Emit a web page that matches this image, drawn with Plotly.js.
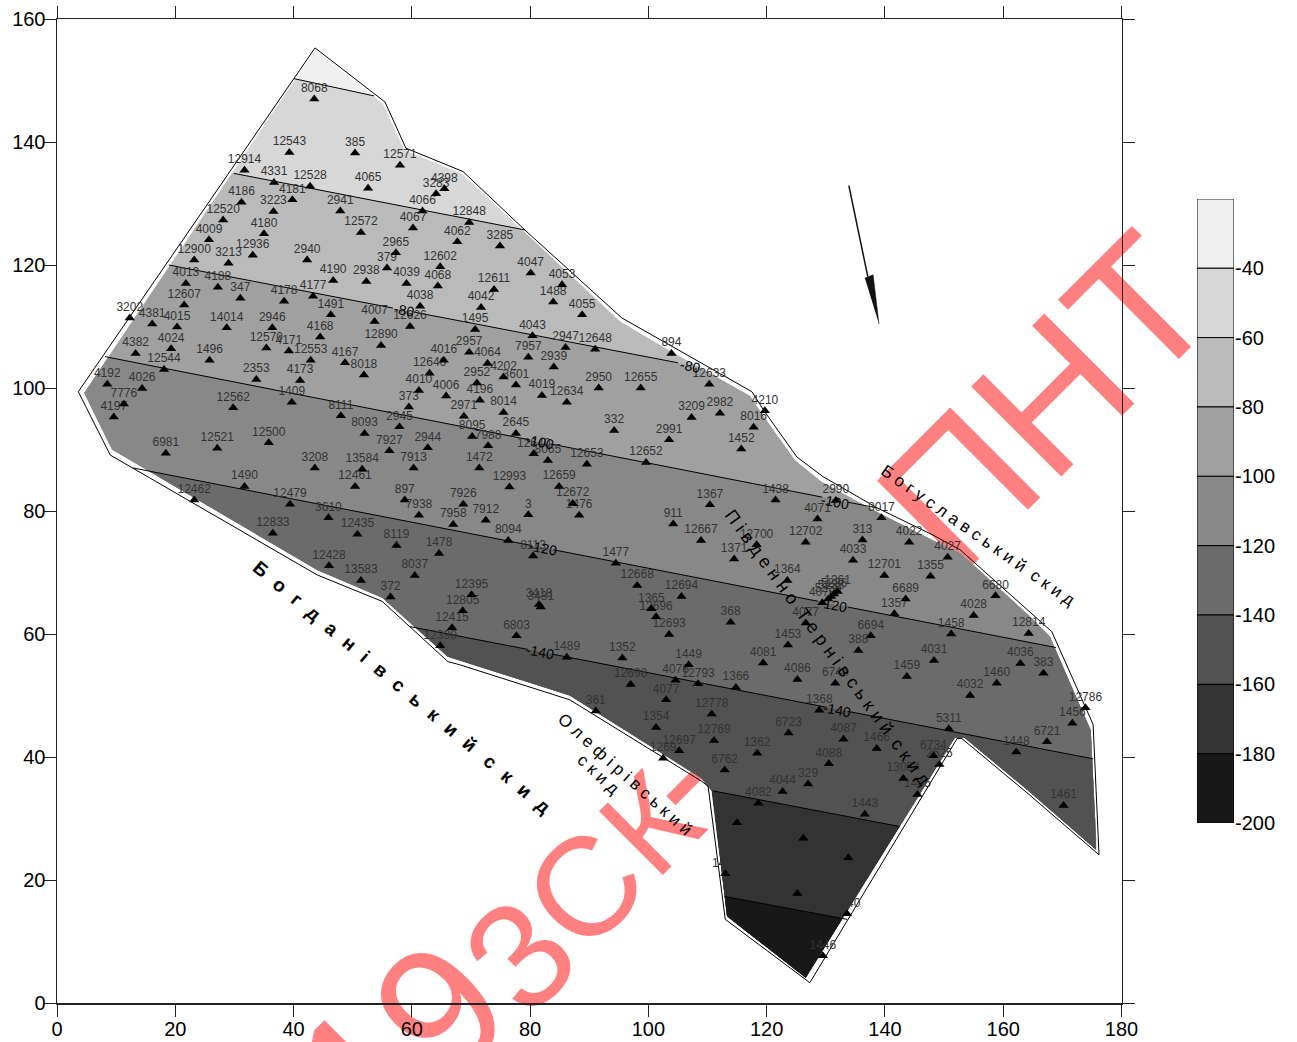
<!DOCTYPE html>
<html>
<head>
<meta charset="utf-8">
<script src="https://cdn.plot.ly/plotly-3.0.1.min.js"></script>
<style>html,body{margin:0;padding:0;background:#fff;overflow:hidden}#chart{width:1297px;height:1042px}</style>
</head>
<body>
<div id="chart"></div>
<script>
const stationNames = ["8068","12543","385","12571","12914","4331","12528","4065","4181","4186","4398","3283","4066","3223","2941","12520","4067","12572","4180","4009","12936","2965","4062","12900","2940","3213","12602","379","4190","2938","4039","4013","4068","4188","4177","347","4178","12607","4038","1491","3202","4381","4015","14014","2946","4007","12626","4168","12890","12570","4024","4171","4382","1496","12553","4167","12544","4016","8018","12646","2353","4173","4192","4026","4010","4006","1409","7776","373","12562","4197","8111","2945","8093","12521","12500","7927","2944","6981","7913","3208","13584","12461","1490","12462","897","12479","7938","3610","7958","12833","12435","8119","1478","12428","8037","13583","372","12415","12390"];
const stationX = [43.5,39.3,50.4,58.0,31.7,36.7,42.8,52.6,39.8,31.2,65.5,64.1,61.8,36.6,47.9,28.1,60.2,51.4,35.0,25.7,33.1,57.3,67.7,23.2,42.3,29.0,64.8,55.8,46.7,52.3,59.1,21.8,64.4,27.2,43.3,31.0,38.4,21.5,61.4,46.3,12.3,16.1,20.3,28.7,36.4,53.7,59.7,44.5,54.8,35.4,19.3,39.2,13.3,25.8,42.9,48.7,18.1,65.4,51.9,63.0,33.7,41.1,8.5,14.4,61.2,65.8,39.7,11.3,59.5,29.8,9.6,48.0,57.9,52.0,27.1,35.8,56.2,62.7,18.4,60.3,43.6,51.6,50.4,31.7,23.2,58.8,39.4,61.2,45.9,67.0,36.5,50.8,57.4,64.6,46.0,60.5,51.4,56.4,66.8,64.8];
const stationY = [147.0,138.3,138.2,136.2,135.4,133.4,132.8,132.5,130.6,130.2,132.4,131.6,128.8,128.7,128.8,127.3,126.0,125.3,125.1,124.1,121.6,122.0,123.8,120.8,120.8,120.3,119.7,119.5,117.5,117.3,117.0,117.0,116.6,116.4,114.9,114.6,114.1,113.5,113.3,111.9,111.4,110.4,109.9,109.8,109.8,110.8,110.0,108.3,106.9,106.5,106.4,106.0,105.6,104.5,104.5,104.1,103.0,104.5,102.1,102.4,101.4,101.2,100.6,99.9,99.6,98.7,97.7,97.4,96.9,96.8,95.3,95.5,93.7,92.6,90.2,91.1,89.8,90.3,89.4,87.0,87.0,86.8,84.0,84.0,81.8,81.8,81.1,79.3,78.9,77.8,76.4,76.2,74.4,73.1,71.1,69.5,68.7,66.0,61.0,58.1];

const stationNames2 = ["4055","4053","1488","12611","4047","4042","12848","3285","1495","4043","2947","12648","894","2957","7957","2939","4064","4202","2952","3601","2950","12655","12633","4019","12634","4196","8014","2971","3209","2982","4210","8016","332","2645","8095","2991","7988","1452","12640","8065","12652","12653","1472","12659","12993","1438","7926","12672","1367","3","1476","7912","911","12667","8094","12700","1371","8113","1477","1364","12668","12694","12395","12805","3418","3431","1365","12696","368","12693","6803","4081","1453","1489","1352","1449","4076","12793","12698","1366","4086","4077","12778","361","1354","6723","12769","12697","1362","1269","6762","4044","4082"];
const stationX2 = [88.8,85.4,83.9,73.9,80.1,71.7,69.7,74.9,70.7,80.4,86.0,91.0,103.9,69.7,79.7,84.0,72.8,75.5,71.0,77.6,91.6,98.7,110.3,82.0,86.2,71.5,75.5,68.8,107.3,112.1,119.7,117.8,94.2,77.6,70.2,103.5,72.9,115.7,80.6,83.0,99.6,89.6,71.4,84.9,76.5,121.5,68.7,87.2,110.4,79.7,88.3,72.5,104.2,108.9,76.3,118.3,114.5,80.5,94.5,123.5,98.1,105.6,70.1,68.6,81.5,81.8,100.5,101.3,113.9,103.5,77.7,119.4,123.6,86.2,95.6,106.8,104.6,108.4,97.0,114.8,125.2,103.0,110.7,91.1,101.3,123.7,111.1,105.2,118.4,102.5,112.9,122.7,118.6];
const stationY2 = [111.9,116.8,114.0,116.0,118.7,113.1,126.9,123.1,109.5,108.5,106.6,106.3,105.6,105.8,105.0,103.4,104.0,101.8,100.8,100.5,100.0,100.0,100.6,98.8,97.7,98.0,96.0,95.4,95.2,95.9,96.3,93.6,93.1,92.6,92.1,91.6,90.6,90.1,89.3,88.2,87.9,87.6,87.0,84.0,83.9,81.8,81.1,81.2,81.0,79.4,79.3,78.5,77.9,75.2,75.2,74.5,72.2,72.7,71.5,68.7,67.9,66.1,66.4,63.8,64.8,64.4,64.1,62.8,61.9,59.9,59.7,55.3,58.2,56.2,56.1,55.0,52.5,51.9,51.8,51.3,52.6,49.3,47.0,47.5,44.8,43.9,42.7,41.0,40.6,39.8,37.9,34.4,32.5];

const stationNames3 = ["2990","4071","8017","12702","313","4022","4027","4033","12701","1355","6680","1361","5236","5238","5230","4070","6689","1357","4028","4077","12814","1458","6694","388","4031","4036","383","1459","1460","6744","4032","12786","1456","5311","1368","6721","4087","1466","1448","6734","4088","2625","13054","329","1445","1461","1443","1447","1450","1441","1444","1442","1440","1446"];
const stationX3 = [131.7,128.6,139.4,126.6,136.2,144.1,150.6,134.6,139.9,147.7,158.7,132.0,131.4,130.9,130.4,129.4,143.5,141.6,155.0,126.6,164.3,151.2,137.6,135.5,148.3,162.9,166.8,143.7,158.9,131.6,154.4,173.9,171.7,150.8,128.9,167.4,133.0,138.6,162.2,148.2,130.5,149.2,143.1,127.0,145.5,170.2,136.6,115.0,126.2,133.8,113.0,125.2,133.6,129.5];
const stationY3 = [81.7,78.7,78.9,74.9,75.3,74.9,72.5,72.0,69.5,69.4,66.2,66.9,66.5,66.1,65.7,65.1,65.7,63.3,63.0,61.8,60.1,60.0,59.7,57.3,55.7,55.2,53.6,53.1,52.0,52.0,50.0,48.0,45.5,44.6,47.6,42.5,42.9,41.4,40.8,40.2,38.9,38.8,36.5,35.6,33.9,32.1,30.7,29.3,26.8,23.6,21.0,17.8,14.5,7.7];

const outlineX = [43.63,55.46,59.0,68.65,79.1,95.5,117.5,119.7,125.1,129.5,138.7,148.1,152.7,165.0,168.2,175.2,176.2,164.0,153.0,152.2,127.3,113.0,110.1,109.1,86.7,68.1,66.1,55.0,44.0,9.0,3.6,43.63];
const outlineY = [155.3,146.5,139.0,135.2,125.7,111.4,99.4,96.1,88.8,85.6,80.5,76.1,73.7,63.1,60.4,45.3,24.1,34.2,43.0,43.0,3.3,13.6,35.2,36.0,49.3,55.0,55.5,65.3,69.6,89.1,99.4,155.3];

const fillX = [43.63,55.1,58.7,68.5,79.0,95.2,102.8,117.2,119.4,124.8,129.2,138.5,148.0,152.7,164.7,167.9,172.5,174.8,175.7,175.7,164.0,153.5,151.8,126.6,113.3,110.8,108.9,86.7,68.1,66.1,55.0,44.0,9.3,4.6];
const fillY = [155.0,146.2,138.7,134.8,125.4,110.8,106.5,98.7,95.5,88.2,84.8,79.9,75.3,73.2,62.7,59.6,49.3,44.4,26.9,24.9,34.7,43.1,43.1,4.1,14.1,34.4,36.6,50.0,55.7,56.3,65.9,70.4,90.0,99.2];

const bandColors = ["#f0f0f0","#d7d7d7","#bababa","#a0a0a0","#888888","#6b6b6b","#525252","#333333","#181818"];
const levels = [-40,-60,-80,-100,-120,-140,-160,-180,-200];

const contourX1 = [40.07,29.9,18.9,8.1,12.85,59.7,110.9,113.0];
const contourY1 = [150.3,134.9,120.0,105.1,87.0,61.2,34.5,17.3];
const contourX2 = [53.6,79.1,105.0,138.7,168.9,175.2,142.5,133.6];
const contourY2 = [147.5,125.7,104.1,80.5,57.8,39.7,28.7,13.6];
const contourGapStart = [[],[],[56.8],[80.0,129.4],[80.3,128.7],[79.6,130.2],[],[]];
const contourGapEnd = [[],[],[60.4],[83.5,133.8],[83.9,133.7],[83.7,133.7],[],[]];

const lineLabelText = ["-80","-80","-100","-100","-120","-120","-140","-140"];
const lineLabelX = [58.6,107,81.7,131.6,82.1,131.3,81.7,131.9];
const lineLabelY = [112.7,103.5,91.3,81.5,74.0,64.7,57.1,47.7];

const arrowLineX = [133.9,137.1];
const arrowLineY = [132.9,118.1];
const arrowHeadX = [136.6,138.0,139.0];
const arrowHeadY = [117.9,118.4,110.4];

const hair = "\u200a";
const wide = s => s.split("").join("  " + hair);
const faultNames = [wide("Богданівський") + "   " + wide("скид"),"Б о г у с л а в с ь к и й  с к и д","П і в д е н н о  Т е р н і в с ь к и й  с к и д","О л е ф і р і в с ь к и й","с к и д"];
const faultX = [58.3,155.7,130.4,96.0,91.5];
const faultY = [51.3,76.0,57.8,37.1,37.1];
const faultAngle = [40,35,54,42,43];
const faultBold = [true,false,false,false,false];
const faultSize = [19,17,18,17,17];

const watermarkParts = ["1","9","3","С","К","-","ПНТ"];
const watermarkPx = [360,439.5,519,584,650,675.7,1045.5];
const watermarkPy = [1072,1010.5,956,889,824,777,402.5];
const watermarkSize = [180,180,150,140,131,165,185];

function clipBelow(xs, ys, x1, y1, x2, y2) {
  const side = (x, y) => y - (y1 + (y2 - y1) * (x - x1) / (x2 - x1));
  const ox = [], oy = [];
  for (let i = 0; i < xs.length; i++) {
    const j = (i + 1) % xs.length;
    const a = side(xs[i], ys[i]), b = side(xs[j], ys[j]);
    if (a <= 0) { ox.push(xs[i]); oy.push(ys[i]); }
    if ((a < 0 && b > 0) || (a > 0 && b < 0)) {
      const t = a / (a - b);
      ox.push(xs[i] + t * (xs[j] - xs[i]));
      oy.push(ys[i] + t * (ys[j] - ys[i]));
    }
  }
  return [ox, oy];
}

const traces = [];
traces.push({x: fillX, y: fillY, mode: 'lines', fill: 'toself', fillcolor: bandColors[0], line: {width: 0}, hoverinfo: 'skip'});
for (let k = 0; k < contourX1.length; k++) {
  const [cx, cy] = clipBelow(fillX, fillY, contourX1[k], contourY1[k], contourX2[k], contourY2[k]);
  traces.push({x: cx, y: cy, mode: 'lines', fill: 'toself', fillcolor: bandColors[k + 1], line: {width: 0}, hoverinfo: 'skip'});
}
for (let k = 0; k < contourX1.length; k++) {
  const at = x => contourY1[k] + (contourY2[k] - contourY1[k]) * (x - contourX1[k]) / (contourX2[k] - contourX1[k]);
  const lx = [contourX1[k]], ly = [contourY1[k]];
  contourGapStart[k].forEach((g, i) => {
    lx.push(g, null, contourGapEnd[k][i]);
    ly.push(at(g), null, at(contourGapEnd[k][i]));
  });
  lx.push(contourX2[k]); ly.push(contourY2[k]);
  traces.push({x: lx, y: ly, mode: 'lines', line: {color: '#000', width: 1}, hoverinfo: 'skip', connectgaps: false});
}
traces.push({x: outlineX, y: outlineY, mode: 'lines', line: {color: '#000', width: 1}, hoverinfo: 'skip', cliponaxis: false});
traces.push({x: arrowLineX, y: arrowLineY, mode: 'lines', line: {color: '#111', width: 1.5}, hoverinfo: 'skip'});
traces.push({x: arrowHeadX, y: arrowHeadY, mode: 'lines', fill: 'toself', fillcolor: '#111', line: {color: '#111', width: 0.5}, hoverinfo: 'skip'});
const allX = stationX.concat(stationX2, stationX3);
const allY = stationY.concat(stationY2, stationY3);
traces.push({
  x: allX, y: allY, text: stationNames.concat(stationNames2, stationNames3),
  mode: 'markers+text', textposition: 'top center',
  textfont: {family: 'Liberation Sans, Arial, sans-serif', size: 12, color: '#333'},
  marker: {symbol: 'circle', size: 5, opacity: 0},
  hoverinfo: 'skip', cliponaxis: false
});
traces.push({
  x: allX, y: allY, mode: 'markers',
  marker: {symbol: 'triangle-up', size: 9, color: '#000', line: {width: 0}},
  hoverinfo: 'skip', cliponaxis: false
});
traces.push({
  x: levels.map(() => 0),
  y: levels.map(() => 20),
  base: levels,
  width: levels.map(() => 1),
  type: 'bar', xaxis: 'x2', yaxis: 'y2',
  marker: {color: bandColors, line: {color: '#000', width: 1}},
  hoverinfo: 'skip'
});

const font = 'Liberation Sans, Arial, sans-serif';
const W = 1240, H = 984.5;
const annotations = watermarkParts.map((t, i) => ({
  xref: 'paper', yref: 'paper', x: (watermarkPx[i] - 57) / W, y: (1003.5 - watermarkPy[i]) / H,
  xanchor: 'center', yanchor: 'middle', showarrow: false, textangle: -45,
  text: t, font: {family: font, size: watermarkSize[i], color: '#ff8080'}
}));
lineLabelText.forEach((t, i) => annotations.push({
  x: lineLabelX[i], y: lineLabelY[i], text: t, showarrow: false, textangle: 11,
  font: {family: font, size: 14, color: '#000'}
}));
faultNames.forEach((t, i) => annotations.push({
  x: faultX[i], y: faultY[i], text: faultBold[i] ? '<b>' + t + '</b>' : t, showarrow: false,
  textangle: faultAngle[i], font: {family: font, size: faultSize[i], color: '#000'}
}));

const layout = {
  width: 1297, height: 1042, showlegend: false, hovermode: false,
  paper_bgcolor: 'rgba(0,0,0,0)', plot_bgcolor: 'rgba(0,0,0,0)',
  margin: {l: 57, r: 0, t: 19, b: 38.5, pad: 0},
  font: {family: font, size: 20, color: '#000'},
  xaxis: {domain: [0, 1064.5 / W], range: [0, 180], tick0: 0, dtick: 20, ticks: 'outside', ticklen: 12, tickwidth: 1, tickcolor: '#222',
    showline: true, linecolor: '#222', linewidth: 1.5, mirror: 'allticks', showgrid: false, zeroline: false, anchor: 'y', ticklabelstandoff: -5, tickfont: {size: 20, family: font}},
  yaxis: {domain: [0, 1], range: [0, 160], tick0: 0, dtick: 20, ticks: 'outside', ticklen: 12, tickwidth: 1, tickcolor: '#222',
    showline: true, linecolor: '#222', linewidth: 1.5, mirror: 'allticks', showgrid: false, zeroline: false, anchor: 'x', ticklabelstandoff: -6, tickfont: {size: 20, family: font}},
  xaxis2: {domain: [(1197 - 57) / W, (1234 - 57) / W], range: [-0.5, 0.5], visible: false, anchor: 'y2', fixedrange: true},
  yaxis2: {domain: [(1003.5 - 823.5) / H, (1003.5 - 199) / H], range: [-200, -20], side: 'right', anchor: 'x2', showgrid: false, zeroline: false,
    ticks: '', showline: false, tickvals: levels, ticktext: levels.map(String), tickfont: {size: 20, family: font}},
  annotations: annotations
};

Plotly.newPlot('chart', traces, layout, {displayModeBar: false, staticPlot: true}).then(gd => {
  const cart = gd.querySelector('.cartesianlayer');
  watermarkParts.forEach((_, i) => {
    const mark = gd.querySelector('.annotation[data-index="' + i + '"]');
    if (mark && cart) cart.parentNode.insertBefore(mark, cart);
  });
});
</script>
</body>
</html>
